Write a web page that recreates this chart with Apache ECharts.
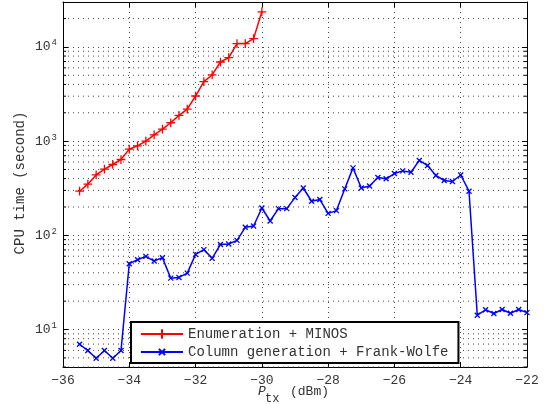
<!DOCTYPE html>
<html>
<head>
<meta charset="utf-8">
<script src="https://cdn.jsdelivr.net/npm/echarts@6/dist/echarts.min.js"></script>
<style>
html, body { margin: 0; padding: 0; background: #fff; }
#chart { width: 544px; height: 404px; }
</style>
</head>
<body>
<div id="chart"></div>
<script>
// transmit power (dBm) and cpu time (s)
const ptxEnum = [-35.5, -35.25, -35, -34.75, -34.5, -34.25, -34, -33.75, -33.5, -33.25, -33, -32.75,
  -32.5, -32.25, -32, -31.75, -31.5, -31.25, -31, -30.75, -30.5, -30.25, -30];
const cpuEnum = [294, 349, 438, 504, 565, 638, 822, 892, 1000, 1167, 1342, 1567,
  1875, 2188, 3014, 4276, 5040, 6920, 7690, 10850, 10850, 12250, 23600];

const ptxCg = [-35.5, -35.25, -35, -34.75, -34.5, -34.25, -34, -33.75, -33.5, -33.25, -33, -32.75,
  -32.5, -32.25, -32, -31.75, -31.5, -31.25, -31, -30.75, -30.5, -30.25, -30, -29.75,
  -29.5, -29.25, -29, -28.75, -28.5, -28.25, -28, -27.75, -27.5, -27.25, -27, -26.75,
  -26.5, -26.25, -26, -25.75, -25.5, -25.25, -25, -24.75, -24.5, -24.25, -24, -23.75,
  -23.5, -23.25, -23, -22.75, -22.5, -22.25, -22];
const cpuCg = [6.98, 5.98, 4.95, 5.98, 4.95, 5.98, 50.0, 55.1, 59.8, 53.3, 57.9, 35.1,
  35.7, 39.7, 62.8, 70.5, 57, 80, 80.8, 88.4, 121.7, 125.6, 195, 141.9,
  192, 192, 251.6, 318, 230, 240, 171, 183, 311, 520, 318, 334,
  411, 398, 453, 483, 468, 624, 551, 432, 382, 373, 437, 294,
  14.2, 16.2, 14.8, 16.3, 14.9, 16.3, 15.1];

// minor log gridlines (2..9 per decade inside the axis range)
const minorTicks = [4, 5, 6, 7, 8, 9, 20, 30, 40, 50, 60, 70, 80, 90,
  200, 300, 400, 500, 600, 700, 800, 900, 2000, 3000, 4000, 5000, 6000, 7000, 8000, 9000, 20000];

const xMin = -36, xMax = -22;
const font = 'Liberation Mono';
const textColor = '#333';
const gridDot = { type: [1, 4], color: '#444', width: 1 };

const chart = echarts.init(document.getElementById('chart'));

function minus(v) {
  return String(v).replace('-', '\u2212');
}

function yLabel(v) {
  const e = Math.log10(v);
  if (Math.abs(e - Math.round(e)) > 1e-6) return '';
  return '{b|10}{s|' + Math.round(e) + '}';
}

chart.setOption({
  animation: false,
  grid: { left: 63, right: 17, top: 2, bottom: 37 },
  xAxis: [{
    type: 'value',
    min: xMin,
    max: xMax,
    interval: 2,
    axisLine: { lineStyle: { color: '#000', width: 1 } },
    axisTick: { inside: true, length: 5, lineStyle: { color: '#000' } },
    axisLabel: { color: textColor, fontFamily: font, fontSize: 13, margin: 7, formatter: minus },
    splitLine: { show: true, lineStyle: gridDot }
  }, {
    type: 'value',
    position: 'top',
    min: xMin,
    max: xMax,
    interval: 2,
    axisLine: { lineStyle: { color: '#000', width: 1 } },
    axisTick: { inside: true, length: 5, lineStyle: { color: '#000' } },
    axisLabel: { show: false },
    splitLine: { show: false }
  }],
  yAxis: [{
    type: 'log',
    logBase: 10,
    min: 4,
    max: 30000,
    splitNumber: 4,
    axisLine: { lineStyle: { color: '#000', width: 1 } },
    axisTick: { inside: true, length: 5, lineStyle: { color: '#000' } },
    axisLabel: {
      color: textColor,
      fontFamily: font,
      margin: 6,
      formatter: yLabel,
      rich: {
        b: { fontFamily: font, fontSize: 13, color: textColor },
        s: { fontFamily: font, fontSize: 9, color: textColor, padding: [0, 0, 8, 1] }
      }
    },
    splitLine: { show: true, lineStyle: gridDot }
  }, {
    type: 'log',
    logBase: 10,
    position: 'right',
    min: 4,
    max: 30000,
    splitNumber: 4,
    axisLine: { lineStyle: { color: '#000', width: 1 } },
    axisTick: { inside: true, length: 5, lineStyle: { color: '#000' } },
    axisLabel: { show: false },
    splitLine: { show: false }
  }],
  legend: {
    orient: 'vertical',
    left: 131,
    top: 322,
    padding: [5, 10, 4, 9],
    itemGap: 4,
    itemWidth: 42,
    itemHeight: 14,
    backgroundColor: '#fff',
    borderColor: '#000',
    borderWidth: 2,
    textStyle: { fontFamily: font, fontSize: 14, color: textColor },
    data: ['Enumeration + MINOS', 'Column generation + Frank-Wolfe'],
    z: 10
  },
  graphic: [
    { type: 'text', x: 20, y: 183, rotation: Math.PI / 2,
      style: { text: 'CPU time (second)', font: '14px "Liberation Mono"', fill: textColor,
        textAlign: 'center', textVerticalAlign: 'middle' } },
    { type: 'text', left: 258, top: 385,
      style: { text: 'P', font: 'italic 13px "Liberation Mono"', fill: textColor } },
    { type: 'text', left: 265, top: 393,
      style: { text: 'tx', font: '12px "Liberation Mono"', fill: textColor } },
    { type: 'text', left: 290, top: 385,
      style: { text: '(dBm)', font: '13px "Liberation Mono"', fill: textColor } }
  ],
  series: [{
    type: 'custom',
    silent: true,
    z: 1,
    data: minorTicks.map(v => [xMin, v]),
    renderItem(params, api) {
      const v = api.value(1);
      const p0 = api.coord([xMin, v]);
      const p1 = api.coord([xMax, v]);
      return {
        type: 'group',
        children: [
          { type: 'line', shape: { x1: p0[0], y1: p0[1], x2: p1[0], y2: p1[1] }, style: { stroke: '#444', lineWidth: 1, lineDash: [1, 4] } },
          { type: 'line', shape: { x1: p0[0], y1: p0[1], x2: p0[0] + 3, y2: p0[1] }, style: { stroke: '#000', lineWidth: 1 } },
          { type: 'line', shape: { x1: p1[0] - 3, y1: p1[1], x2: p1[0], y2: p1[1] }, style: { stroke: '#000', lineWidth: 1 } }
        ]
      };
    }
  }, {
    name: 'Enumeration + MINOS',
    type: 'line',
    z: 3,
    data: ptxEnum.map((x, i) => [x, cpuEnum[i]]),
    // move-tos pad the box so the legend copy comes out smaller
    symbol: 'path://M-1,-1M11,11M5,0L5,10M0,5L10,5',
    symbolSize: 10.5,
    showAllSymbol: true,
    lineStyle: { color: '#ff0000', width: 1.5 },
    itemStyle: { color: '#ff0000', borderColor: '#ff0000', borderWidth: 1.3 }
  }, {
    name: 'Column generation + Frank-Wolfe',
    type: 'line',
    z: 3,
    data: ptxCg.map((x, i) => [x, cpuCg[i]]),
    symbol: 'path://M-4,-4M14,14M0,0L10,10M10,0L0,10',
    symbolSize: 9,
    showAllSymbol: true,
    lineStyle: { color: '#0000ff', width: 1.5 },
    itemStyle: { color: '#0000ff', borderColor: '#0000ff', borderWidth: 1.3 }
  }]
});
</script>
</body>
</html>
